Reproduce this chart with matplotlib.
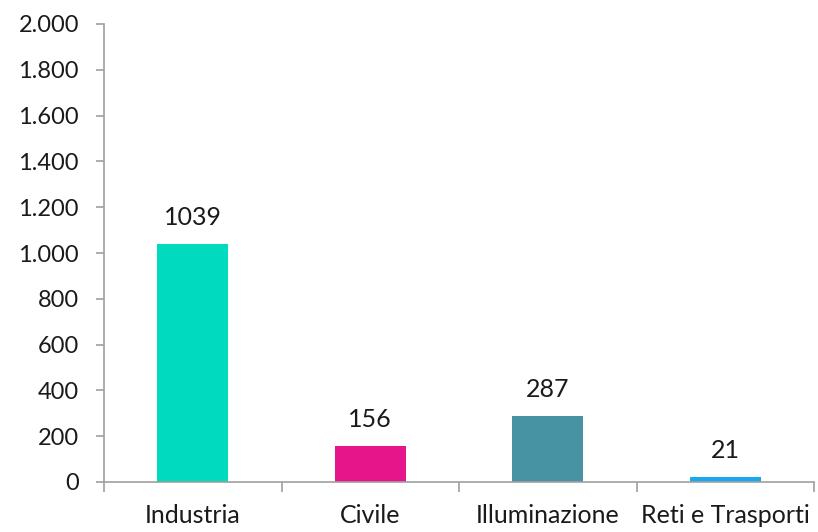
import matplotlib
matplotlib.use("Agg")
import matplotlib.pyplot as plt
from matplotlib.ticker import FuncFormatter, FixedLocator

categories = ["Industria", "Civile", "Illuminazione", "Reti e Trasporti"]
values = [1039, 156, 287, 21]
colors = ["#00DBBE", "#E6168A", "#4793A3", "#16A9EE"]
yticks = list(range(0, 2001, 200))

plt.rcParams['font.family'] = ['Lato', 'DejaVu Sans']
FS = 18

fig = plt.figure(figsize=(8.18, 5.32), dpi=100)
ax = fig.add_axes([104/818, 50/532, 710/818, 458/532])

x = list(range(len(categories)))
ax.bar(x, values, width=0.4, color=colors, zorder=2)
for xi, v in zip(x, values):
    ax.annotate(str(v), (xi, v), xytext=(0, 11), textcoords='offset points',
                ha='center', va='bottom', fontsize=FS, color='#1a1a1a')

ax.set_xlim(-0.5, len(categories) - 0.5)
ax.set_ylim(0, 2000)
ax.set_yticks(yticks)
ax.yaxis.set_major_formatter(FuncFormatter(lambda v, p: f"{int(v):,}".replace(",", ".")))
ax.set_xticks(x)
ax.set_xticklabels(categories)
ax.xaxis.set_minor_locator(FixedLocator([i - 0.5 for i in range(len(categories) + 1)]))
ax.tick_params(axis='x', which='major', length=0, pad=16, labelsize=FS, labelcolor='#1a1a1a')
ax.tick_params(axis='x', which='minor', length=7, width=1.2, color='#A0A0A0', direction='out')
ax.tick_params(axis='y', length=6, width=1.2, color='#A0A0A0', pad=12, labelsize=17, labelcolor='#1a1a1a')

for s in ['top', 'right']:
    ax.spines[s].set_visible(False)
for s in ['left', 'bottom']:
    ax.spines[s].set_color('#A0A0A0')
    ax.spines[s].set_linewidth(1.2)

fig.savefig("out.png", dpi=100)
